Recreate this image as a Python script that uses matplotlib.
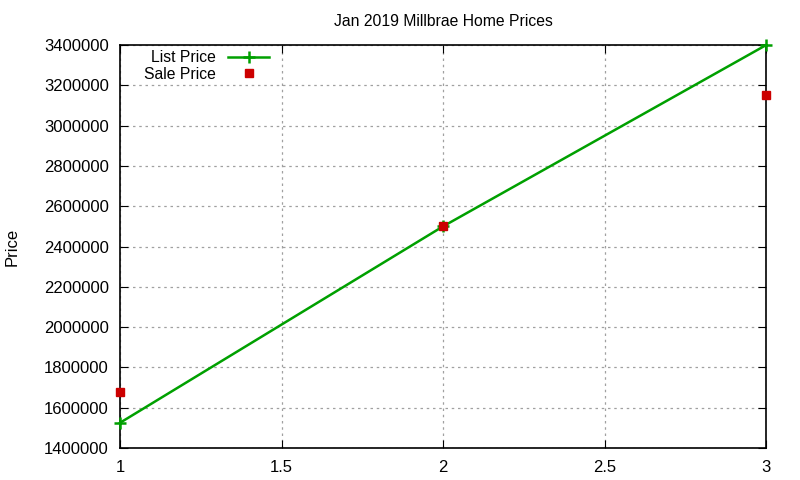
import matplotlib.pyplot as plt

x = [1, 2, 3]
list_price = [1525000, 2500000, 3400000]
sale_price = [1680000, 2500000, 3150000]
yticks = list(range(1400000, 3400001, 200000))
xticks = [1, 1.5, 2, 2.5, 3]

plt.rcParams['font.family'] = ['Liberation Sans', 'DejaVu Sans']
plt.rcParams['font.size'] = 11.3

fig = plt.figure(figsize=(8, 4.8), dpi=100)
ax = fig.add_axes([0.15, 0.0667, 0.8075, 0.8393])

ax.plot(x, list_price, color='#00a000', lw=1.8, marker='+', markersize=8,
        markeredgewidth=1.8, label='List Price', clip_on=False, zorder=3)
ax.plot(x, sale_price, linestyle='none', color='#cc0000', marker='s',
        markersize=6, label='Sale Price', clip_on=False, zorder=4)

ax.set_xlim(1, 3)
ax.set_ylim(1400000, 3400000)
ax.set_xticks(xticks)
ax.set_xticklabels(['1', '1.5', '2', '2.5', '3'])
ax.set_yticks(yticks)
ax.set_yticklabels([str(v) for v in yticks])
ax.tick_params(direction='in', top=True, right=True, length=6, labelsize=12)
ax.tick_params(axis='y', pad=8)
ax.tick_params(axis='x', pad=9)
ax.grid(True, color='#a0a0a0', linestyle=(0, (2, 3)), lw=0.9)
for s in ax.spines.values():
    s.set_linewidth(1.2)

ax.set_title('Jan 2019 Millbrae Home Prices', fontsize=11.3, pad=14)
fig.text(12 / 800, 1 - 247 / 480, 'Price', rotation=90, fontsize=12,
         ha='center', va='center')

ax.legend(loc='upper left', bbox_to_anchor=(0.02, 1.015), frameon=False,
          markerfirst=False, handlelength=2.6, borderpad=0.2,
          labelspacing=0.1, fontsize=11.3, handletextpad=0.8)
leg = ax.get_legend()
for t in leg.get_texts():
    t.set_ha('right')

fig.savefig('out.png', dpi=100)
